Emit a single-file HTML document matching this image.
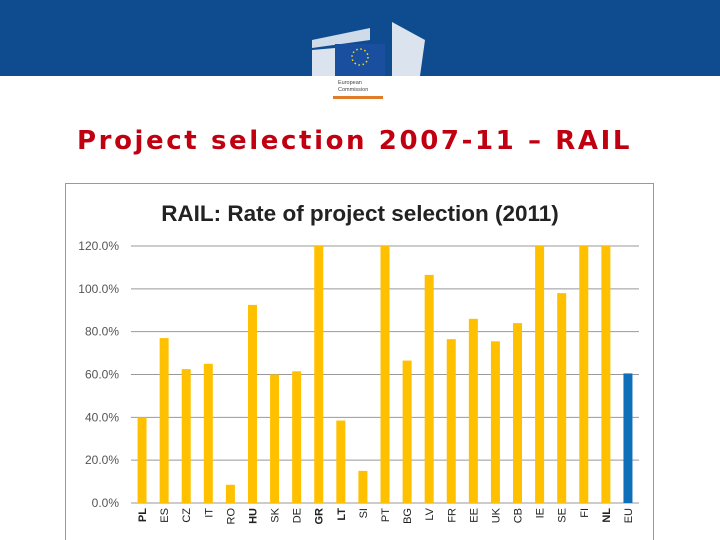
<!DOCTYPE html>
<html style="margin:0;width:720px;height:540px;overflow:hidden"><head><meta charset="utf-8"><style>
body{margin:0;width:720px;height:540px;overflow:hidden;background:#fff;font-family:"Liberation Sans",sans-serif;position:relative}
#hdr{position:absolute;left:0;top:0;width:720px;height:76px;background:#0f4c8f}
#title{position:absolute;left:77px;top:126px;white-space:nowrap;font-family:"DejaVu Sans",sans-serif;font-size:26px;font-weight:bold;letter-spacing:2.6px;color:#c00010}
#box{position:absolute;left:65px;top:183px;width:587px;height:370px;border:1px solid #999}
</style></head><body>
<div id="hdr"></div>
<svg style="position:absolute;left:0;top:0" width="720" height="110">
<g fill="#fff">
<path d="M312 40 L370 28 L370 40 L312 48Z" opacity="0.8"/>
<path d="M312 50 L335 48 L335 76 L312 76Z" opacity="0.85"/>
<path d="M392 22 L425 40 L420 76 L392 76Z" opacity="0.85"/>
</g>
<rect x="335" y="44" width="50" height="32" fill="#1a4fa0"/>
<circle cx="360" cy="57" r="8" fill="none" stroke="#ffdd00" stroke-width="1.5" stroke-dasharray="1.5 2.7"/>
<rect x="335" y="76" width="50" height="24" fill="#fff"/>
<text x="338" y="84" font-size="5.5" fill="#444">European</text>
<text x="338" y="91" font-size="5.5" fill="#444">Commission</text>
<rect x="333" y="96" width="50" height="3" fill="#e07b2a"/>
</svg>
<div id="title">Project selection 2007-11 – RAIL</div>
<div id="box"></div>
<svg id="chart" style="position:absolute;left:0;top:0" width="720" height="540"></svg>
<script>
const categories=["PL","ES","CZ","IT","RO","HU","SK","DE","GR","LT","SI","PT","BG","LV","FR","EE","UK","CB","IE","SE","FI","NL","EU"];
const values=[40,77,62.5,65,8.5,92.5,60,61.5,120,38.5,15,120,66.5,106.5,76.5,86,75.5,84,120,98,120,120,60.5];
const boldCats=["PL","HU","GR","LT","NL"];
const yTicks=[0,20,40,60,80,100,120];
const tickLabels=["0.0%","20.0%","40.0%","60.0%","80.0%","100.0%","120.0%"];
const svg=document.getElementById('chart');
const NS="http://www.w3.org/2000/svg";
const x0=131,x1=639,yb=503,yt=246,vmax=120;
const y=v=>yb-(v/vmax)*(yb-yt);
const step=(x1-x0)/categories.length;
const xc=i=>x0+step*(i+0.5);
function mk(t,a){const e=document.createElementNS(NS,t);for(const k in a)e.setAttribute(k,a[k]);svg.appendChild(e);return e;}
const tt=mk('text',{x:360,y:221,'text-anchor':'middle','font-size':22.5,'font-weight':'bold',fill:'#222'});


tt.textContent="RAIL: Rate of project selection (2011)";
yTicks.forEach((v,i)=>{
const l=mk('line',{x1:x0,x2:x1,y1:y(v),y2:y(v),stroke:'#999','stroke-width':1});


const t=mk('text',{x:119,y:y(v)+4,'text-anchor':'end','font-size':12,fill:'#555'});


t.textContent=tickLabels[i];
});
categories.forEach((c,i)=>{
const v=values[i];
const r=mk('rect',{x:xc(i)-4.5,y:y(v),width:9,height:yb-y(v),fill:c==="EU"?'#0f6fb8':'#ffc000'});


const t=mk('text',{transform:`translate(${xc(i)+4},${508}) rotate(-90)`,'text-anchor':'end','font-size':11,fill:'#222','font-weight':boldCats.includes(c)?'bold':'normal'});


t.textContent=c;
});
</script>
</body></html>
